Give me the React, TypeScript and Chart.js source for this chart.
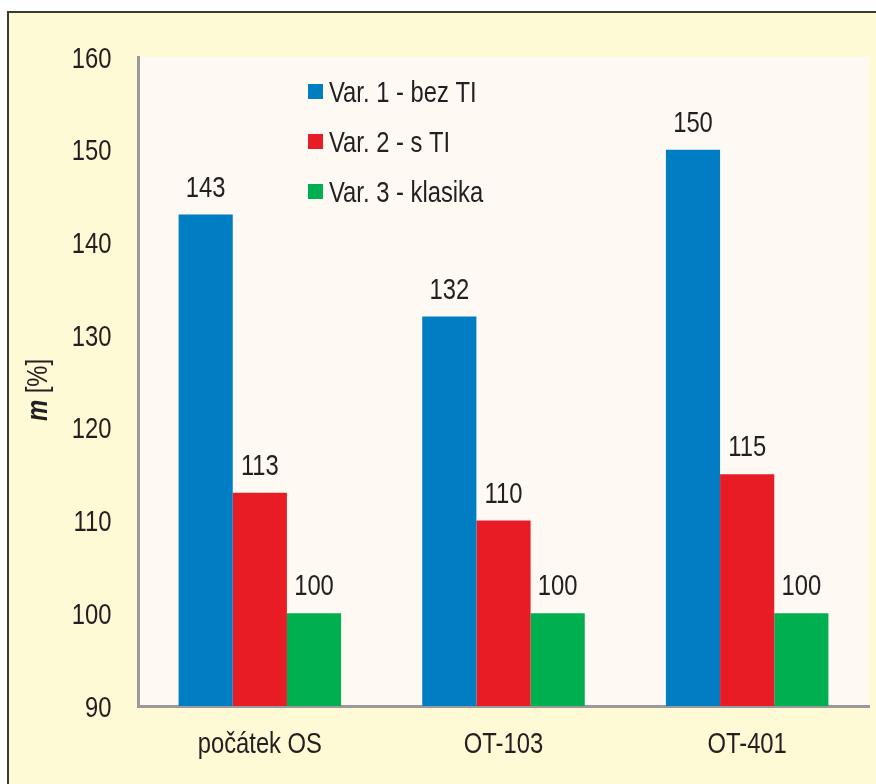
import React, { useEffect, useRef } from "react";
import { Chart, registerables } from "chart.js";

Chart.register(...registerables);

const categories = ["počátek OS", "OT-103", "OT-401"];
const seriesNames = ["Var. 1 - bez TI", "Var. 2 - s TI", "Var. 3 - klasika"];
const var1Values = [143, 132, 150];
const var2Values = [113, 110, 115];
const var3Values = [100, 100, 100];
const seriesColors = ["#007DC3", "#E81C24", "#00B050"];
const yMin = 90;
const yMax = 160;
const yStep = 10;

const FONT = "'Liberation Sans', Arial, sans-serif";
const FONT_SIZE = 29;
const NARROW = 0.82; // horizontal squeeze to get a condensed face
const TEXT = "#231F20";

function narrowText(ctx: any, text: string, x: number, y: number, align: string, font: string) {
  ctx.save();
  ctx.translate(x, y);
  ctx.scale(NARROW, 1);
  ctx.font = font;
  ctx.textAlign = align;
  ctx.textBaseline = "alphabetic";
  ctx.fillStyle = TEXT;
  ctx.fillText(text, 0, 0);
  ctx.restore();
}

const backgroundPlugin = {
  id: "panelBackground",
  beforeDraw(chart: any) {
    const { ctx, width, height, chartArea } = chart;
    ctx.save();
    ctx.fillStyle = "#FFFFFF";
    ctx.fillRect(0, 0, width, height);
    ctx.fillStyle = "#FFFAD6";
    ctx.fillRect(7, 11, width - 7, height - 11);
    ctx.strokeStyle = "#3A3A30";
    ctx.lineWidth = 2;
    ctx.beginPath();
    ctx.moveTo(8, height);
    ctx.lineTo(8, 12);
    ctx.lineTo(width, 12);
    ctx.stroke();
    ctx.fillStyle = "#FFF9F4";
    ctx.fillRect(chartArea.left, chartArea.top, chartArea.right - chartArea.left, chartArea.bottom - chartArea.top);
    ctx.restore();
  },
};

const overlayPlugin = {
  id: "overlay",
  afterDraw(chart: any) {
    const { ctx, chartArea, scales } = chart;
    const regular = `${FONT_SIZE}px ${FONT}`;

    // y tick labels
    scales.y.ticks.forEach((t: any) => {
      const py = scales.y.getPixelForValue(t.value);
      narrowText(ctx, String(t.value), 111.5, py + 10.5, "right", regular);
    });

    // category labels
    categories.forEach((c, i) => {
      const px = scales.x.getPixelForValue(i);
      narrowText(ctx, c, px, 753, "center", regular);
    });

    // value labels above bars
    chart.data.datasets.forEach((ds: any, di: number) => {
      const meta = chart.getDatasetMeta(di);
      meta.data.forEach((bar: any, i: number) => {
        narrowText(ctx, String(ds.data[i]), bar.x, bar.y - 18, "center", regular);
      });
    });

    // legend inside plot
    const lx = chartArea.left + 170;
    let ly = 84;
    chart.data.datasets.forEach((ds: any) => {
      ctx.save();
      ctx.fillStyle = ds.backgroundColor;
      ctx.fillRect(lx, ly, 15, 15);
      ctx.restore();
      narrowText(ctx, ds.label, lx + 21, ly + 18, "left", regular);
      ly += 50;
    });

    // y-axis title: bold italic "m" followed by "[%]"
    ctx.save();
    ctx.translate(47, 390);
    ctx.rotate(-Math.PI / 2);
    ctx.scale(NARROW, 1);
    ctx.fillStyle = TEXT;
    ctx.textBaseline = "alphabetic";
    ctx.textAlign = "left";
    const bold = `italic bold ${FONT_SIZE}px ${FONT}`;
    ctx.font = bold;
    const w1 = ctx.measureText("m").width;
    ctx.font = regular;
    const w2 = ctx.measureText(" [%]").width;
    const start = -(w1 + w2) / 2;
    ctx.font = bold;
    ctx.fillText("m", start, 0);
    ctx.font = regular;
    ctx.fillText(" [%]", start + w1, 0);
    ctx.restore();
  },
};

export default function App() {
  const canvasRef = useRef<HTMLCanvasElement | null>(null);

  useEffect(() => {
    document.body.style.margin = "0";
    const canvas = canvasRef.current;
    if (!canvas) return;
    const chart = new Chart(canvas, {
      type: "bar",
      data: {
        labels: categories,
        datasets: [var1Values, var2Values, var3Values].map((vals, i) => ({
          label: seriesNames[i],
          data: vals,
          backgroundColor: seriesColors[i],
          borderWidth: 0,
          barPercentage: 1,
          categoryPercentage: 0.667,
        })),
      },
      options: {
        responsive: false,
        animation: false,
        layout: { padding: { top: 57, right: 7, left: 0, bottom: 0 } },
        plugins: {
          legend: { display: false },
          tooltip: { enabled: false },
        },
        scales: {
          x: {
            grid: { display: false, drawTicks: false },
            border: { display: true, color: "#9A9A9A", width: 3 },
            ticks: { display: false },
            afterFit(scale: any) {
              scale.height = 78;
            },
          },
          y: {
            min: yMin,
            max: yMax,
            grid: { display: false, drawTicks: false },
            border: { display: true, color: "#9A9A9A", width: 3 },
            ticks: { display: false, stepSize: yStep },
            afterFit(scale: any) {
              scale.width = 138;
            },
          },
        },
      },
      plugins: [backgroundPlugin, overlayPlugin],
    });
    return () => chart.destroy();
  }, []);

  return (
    <div style={{ position: "fixed", left: 0, top: 0, width: 876, height: 784 }}>
      <canvas ref={canvasRef} width={876} height={784} style={{ display: "block" }} />
    </div>
  );
}
